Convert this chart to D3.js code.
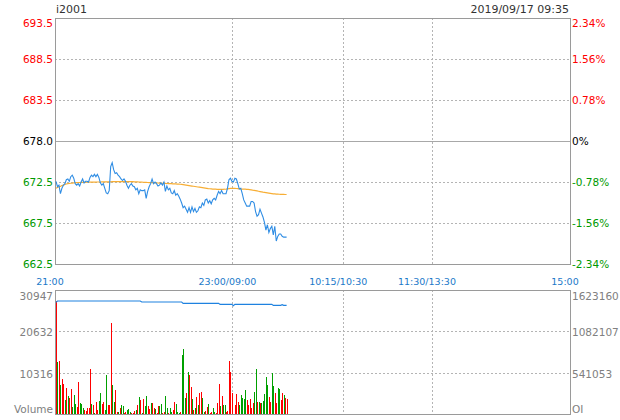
<!DOCTYPE html>
<html><head><meta charset="utf-8">
<script src="https://cdn.jsdelivr.net/npm/d3@7"></script>
<style>html,body{margin:0;padding:0;background:#fff;}svg{display:block;font-family:"DejaVu Sans",sans-serif;}</style>
</head><body><svg id="c" width="620" height="420"></svg>
<script>
const title = "i2001";
const stamp = "2019/09/17 09:35";
const preClose = 678.0;
const pctTicks = [2.34, 1.56, 0.78, 0, -0.78, -1.56, -2.34];
const priceLabels = ["693.5","688.5","683.5","678.0","672.5","667.5","662.5"];
const pctLabels = ["2.34%","1.56%","0.78%","0%","-0.78%","-1.56%","-2.34%"];
const timeTicks = [0, 120, 195, 255, 345];
const timeLabels = ["21:00","23:00/09:00","10:15/10:30","11:30/13:30","15:00"];
const volTicks = [30947, 20632, 10316];
const volLabels = ["30947","20632","10316","Volume"];
const oiTicks = [1623160, 1082107, 541053];
const oiLabels = ["1623160","1082107","541053","OI"];

const price = [
672.8,672.1,672.3,671.2,671.9,672.3,672.5,673.0,673.1,672.8,
673.4,673.6,673.2,672.5,672.3,672.5,672.2,672.7,673.1,672.6,
672.8,672.8,672.7,673.3,673.6,673.4,673.7,673.4,673.7,673.3,
672.6,672.3,672.5,671.9,671.3,671.2,671.6,674.7,675.2,674.3,
673.8,673.9,673.6,673.4,673.1,672.9,673.1,672.8,672.3,671.9,
672.3,672.5,672.2,672.1,671.7,671.9,671.2,671.7,671.6,671.6,
671.7,670.6,671.5,672.1,672.5,673.1,672.5,672.7,672.5,672.2,
672.3,672.6,672.3,672.7,671.5,672.2,671.7,671.9,671.3,671.2,
671.6,671.0,671.2,670.9,670.5,670.0,669.4,669.6,669.2,668.8,
669.4,668.8,669.5,668.9,669.3,668.8,669.0,669.5,669.4,670.0,
669.7,670.4,670.5,670.0,670.3,669.9,670.4,670.6,670.4,671.0,
671.5,671.2,671.6,671.2,671.2,671.2,671.9,673.0,673.2,672.8,
672.7,673.2,673.1,672.5,671.8,671.9,671.2,670.4,670.0,669.6,
669.6,669.6,670.2,670.2,670.0,668.9,668.3,668.5,669.2,668.7,
668.2,667.5,666.5,667.2,666.2,666.7,667.0,665.9,667.0,665.1,
665.7,666.0,666.0,665.7,665.6,665.6,665.6];

const avgPrice = [
671.9,672.0,672.1,672.15,672.25,672.3,672.4,672.45,672.5,672.52,
672.55,672.57,672.6,672.62,672.63,672.64,672.65,672.66,672.66,672.67,
672.67,672.68,672.68,672.69,672.69,672.7,672.7,672.7,672.71,672.71,
672.71,672.72,672.72,672.72,672.73,672.73,672.73,672.74,672.75,672.75,
672.76,672.76,672.76,672.76,672.76,672.76,672.76,672.76,672.76,672.76,
672.76,672.75,672.75,672.74,672.73,672.72,672.71,672.7,672.69,672.68,
672.67,672.66,672.65,672.64,672.63,672.62,672.61,672.6,672.59,672.58,
672.57,672.56,672.55,672.54,672.53,672.52,672.51,672.5,672.49,672.48,
672.47,672.46,672.45,672.44,672.42,672.4,672.37,672.34,672.31,672.28,
672.25,672.22,672.19,672.16,672.13,672.1,672.07,672.04,672.01,671.98,
671.95,671.92,671.89,671.86,671.84,671.82,671.8,671.79,671.78,671.77,
671.77,671.77,671.77,671.77,671.78,671.8,671.83,671.86,671.88,671.9,
671.9,671.89,671.87,671.85,671.83,671.81,671.8,671.79,671.78,671.77,
671.75,671.72,671.69,671.66,671.64,671.6,671.56,671.52,671.48,671.44,
671.4,671.37,671.34,671.31,671.28,671.25,671.22,671.19,671.17,671.15,
671.14,671.13,671.12,671.12,671.11,671.1,671.1];

const volume = [
28200,12890,13230,7240,8650,7490,3490,6410,4490,4080,
6240,1750,4740,2500,1750,7990,2660,2500,1580,1000,
750,1410,1410,11230,2500,2250,170,2910,920,3240,
5160,2410,2910,1000,9730,2250,2250,22790,7240,3080,
5990,420,500,1410,2250,2000,250,580,1000,1250,
580,170,170,830,1000,2250,4160,3490,170,3660,
2000,4490,2000,1250,2750,2750,1410,1250,170,2080,
2080,2410,170,420,4490,1410,170,1410,420,1000,
2910,2410,580,170,420,14730,16220,3910,5160,10400,
9730,6820,3740,1000,1410,4330,2250,5160,5410,3910,
580,830,1830,2410,330,420,1410,580,330,2830,
7400,2080,4490,2250,2250,420,750,13230,10400,5320,
100,2250,4990,2910,2250,4740,3910,3740,5990,3490,
2250,3660,1580,2660,5410,11230,3080,2910,2660,2660,
3240,4910,9320,7240,4330,3080,10230,6990,5160,2830,
6410,6160,3490,5160,4740,3910,3740];

// r = up (red), g = down (green), one letter per bar
const volDir = ("rgrgrrgrgr"+"rgggrrgggr"+"rrrrgrgrrg"+"grrggrrrgg"+"rrgrggrrgg"+
  "grrrgrgrgr"+"ggrrgrrgrr"+"ggrrggrggr"+"rgggrgggrg"+"rrgrgrgrrg"+
  "grrgrrggrr"+"rgrggrrrrr"+"rrrrgggggr"+"rrrrggrgrg"+"ggggrrggrr"+"ggrrgrr").split("");

const oi = [
1461700,1479200,1479200,1479200,1479200,1479200,1479200,1479200,1479200,1479200,
1479200,1479200,1479200,1479200,1479200,1479200,1479200,1479200,1479200,1479200,
1479200,1479200,1479200,1479200,1479200,1479200,1479200,1479200,1479200,1479200,
1479200,1479200,1479200,1479200,1479200,1479200,1479200,1479200,1479200,1479200,
1479200,1479200,1479200,1479200,1479200,1479200,1479200,1479200,1479200,1479200,
1479200,1479200,1479200,1479200,1479200,1479200,1479200,1479200,1466100,1466100,
1466100,1466100,1466100,1466100,1466100,1466100,1466100,1466100,1466100,1466100,
1466100,1466100,1466100,1466100,1466100,1466100,1466100,1466100,1466100,1466100,
1466100,1466100,1466100,1466100,1466100,1466100,1448600,1448600,1448600,1448600,
1448600,1448600,1448600,1448600,1448600,1448600,1448600,1448600,1448600,1448600,
1448600,1448600,1448600,1448600,1448600,1448600,1448600,1448600,1448600,1448600,
1448600,1435500,1435500,1435500,1435500,1435500,1435500,1435500,1435500,1435500,
1418100,1435500,1435500,1435500,1435500,1435500,1435500,1435500,1435500,1435500,
1435500,1435500,1435500,1435500,1435500,1435500,1435500,1435500,1435500,1435500,
1435500,1435500,1435500,1435500,1435500,1435500,1435500,1422400,1422400,1422400,
1422400,1422400,1422400,1431200,1422400,1422400,1422400];

const svg = d3.select("#c");
const L = 55, R = 570, PR = 565;
const pTop = 18, pBot = 264, vTop = 290, vBot = 414;
const lo = preClose * (1 - 0.0234), hi = preClose * (1 + 0.0234);

const x = d3.scaleLinear().domain([0, 345]).range([L, PR]);
const y = d3.scaleLinear().domain([lo, hi]).range([pBot, pTop]);
const yv = d3.scaleLinear().domain([0, 30947]).range([vBot, vTop]);
const yo = d3.scaleLinear().domain([0, 1623160]).range([vBot, vTop]);

const labelColor = p => p > 0 ? "#ff0000" : (p < 0 ? "#009900" : "#000000");
const gridColor = "#b4b4b4", borderColor = "#9a9a9a";

// title / stamp
svg.append("text").attr("x", 56).attr("y", 13).attr("font-size", 11).attr("fill", "#333").text(title);
svg.append("text").attr("x", 569).attr("y", 13).attr("font-size", 11).attr("fill", "#333")
  .attr("text-anchor", "end").text(stamp);

// price grid
const g = svg.append("g");
pctTicks.forEach((p, k) => {
  const yy = Math.round(y(preClose * (1 + p / 100))) + 0.5;
  if (k > 0 && k < pctTicks.length - 1) {
    g.append("line").attr("x1", L).attr("x2", R).attr("y1", yy).attr("y2", yy)
      .attr("stroke", p === 0 ? "#a8a8a8" : gridColor)
      .attr("stroke-dasharray", p === 0 ? null : "2,2");
  }
  const by = k === 0 ? yy + 8.5 : yy + 3.5;
  g.append("text").attr("x", 53).attr("y", by).attr("text-anchor", "end")
    .attr("font-size", 10.5).attr("fill", labelColor(p)).text(priceLabels[k]);
  g.append("text").attr("x", 572).attr("y", by).attr("font-size", 10.5)
    .attr("fill", labelColor(p)).text(pctLabels[k]);
});

// vertical dashed grid (both panels)
timeTicks.slice(1, 4).forEach(t => {
  const xx = Math.round(x(t)) + 0.5;
  g.append("line").attr("x1", xx).attr("x2", xx).attr("y1", pTop).attr("y2", pBot)
    .attr("stroke", gridColor).attr("stroke-dasharray", "2,2");
  g.append("line").attr("x1", xx).attr("x2", xx).attr("y1", vTop).attr("y2", vBot)
    .attr("stroke", gridColor).attr("stroke-dasharray", "2,2");
});

// time labels
timeTicks.forEach((t, k) => {
  const cx = k === timeTicks.length - 1 ? x(t) : x(t) - 5;
  svg.append("text").attr("x", cx).attr("y", 284.5).attr("text-anchor", "middle")
    .attr("font-size", 9.5).attr("fill", "#1b79c9").text(timeLabels[k]);
});

// volume grid & labels
volTicks.forEach((v, k) => {
  const yy = Math.round(yv(v)) + 0.5;
  if (k > 0) {
    g.append("line").attr("x1", L).attr("x2", R).attr("y1", yy).attr("y2", yy)
      .attr("stroke", gridColor).attr("stroke-dasharray", "2,2");
  }
  const by = k === 0 ? yy + 9.5 : yy + 4.3;
  svg.append("text").attr("x", 53).attr("y", by).attr("text-anchor", "end")
    .attr("font-size", 10.5).attr("fill", "#808080").text(volLabels[k]);
  svg.append("text").attr("x", 572).attr("y", by)
    .attr("font-size", 10.5).attr("fill", "#808080").text(oiLabels[k]);
});
svg.append("text").attr("x", 53).attr("y", 413).attr("text-anchor", "end")
  .attr("font-size", 10.5).attr("fill", "#808080").text(volLabels[3]);
svg.append("text").attr("x", 572).attr("y", 413)
  .attr("font-size", 10.5).attr("fill", "#808080").text(oiLabels[3]);

// borders
[[pTop, pBot], [vTop, vBot]].forEach(([t, b]) => {
  svg.append("rect").attr("x", L + 0.5).attr("y", t + 0.5).attr("width", R - L).attr("height", b - t)
    .attr("fill", "none").attr("stroke", borderColor);
});

// volume bars (drawn just inside the left border)
svg.append("g").selectAll("rect").data(volume).join("rect")
  .attr("x", (d, i) => Math.round(x(i)) + 1)
  .attr("width", 1)
  .attr("y", d => yv(d))
  .attr("height", d => vBot - yv(d))
  .attr("fill", (d, i) => volDir[i] === "r" ? "#ff0000" : "#00a000")
  .attr("shape-rendering", "crispEdges");

// OI line
svg.append("path").datum(oi)
  .attr("d", d3.line().x((d, i) => x(i) + 1).y(d => yo(d)))
  .attr("fill", "none").attr("stroke", "#1f82e0").attr("stroke-width", 1.1);

// avg and price lines
svg.append("path").datum(avgPrice)
  .attr("d", d3.line().x((d, i) => x(i) + 1).y(d => y(d)))
  .attr("fill", "none").attr("stroke", "#f7ae35").attr("stroke-width", 1.2);
svg.append("path").datum(price)
  .attr("d", d3.line().x((d, i) => x(i) + 1).y(d => y(d)))
  .attr("fill", "none").attr("stroke", "#2f8de4").attr("stroke-width", 1.1);
</script></body></html>
